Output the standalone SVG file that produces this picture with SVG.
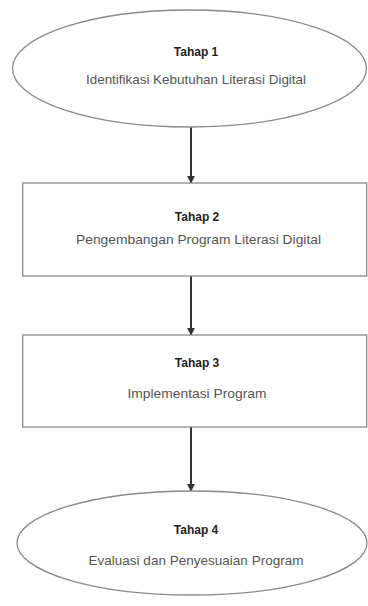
<svg xmlns="http://www.w3.org/2000/svg" width="368" height="606" viewBox="0 0 368 606">
<defs>
<style>
.shape{fill:#ffffff;stroke:#8a8a8a;stroke-width:1.3}
.title{font-family:"Liberation Sans",Arial,sans-serif;font-size:12px;font-weight:bold;fill:#222;text-anchor:middle}
.desc{font-family:"Liberation Sans",Arial,sans-serif;font-size:13px;fill:#555;text-anchor:middle}
.conn{stroke:#333;stroke-width:2;fill:none;marker-end:url(#arr)}
</style>
<marker id="arr" viewBox="0 0 10 10" refX="9" refY="5" markerWidth="4" markerHeight="4" orient="auto" markerUnits="strokeWidth">
<path d="M0,0 L10,5 L0,10 z" fill="#333"/>
</marker>
</defs>
<rect width="368" height="606" fill="#ffffff"/>
<g id="connectors">
<line class="conn" x1="191" y1="127" x2="191" y2="183"/>
<line class="conn" x1="191" y1="276" x2="191" y2="335"/>
<line class="conn" x1="191" y1="427" x2="191" y2="491"/>
</g>
<g id="tahap1">
<ellipse class="shape" cx="189.5" cy="68.5" rx="177" ry="58.5"/>
<text class="title" x="196" y="56">Tahap 1</text>
<text class="desc" x="196" y="84" textLength="220" lengthAdjust="spacingAndGlyphs">Identifikasi Kebutuhan Literasi Digital</text>
</g>
<g id="tahap2">
<rect class="shape" x="22.7" y="183" width="344" height="93"/>
<text class="title" x="197" y="221">Tahap 2</text>
<text class="desc" x="198.5" y="244" textLength="245" lengthAdjust="spacingAndGlyphs">Pengembangan Program Literasi Digital</text>
</g>
<g id="tahap3">
<rect class="shape" x="22.7" y="335" width="344" height="92"/>
<text class="title" x="197" y="367">Tahap 3</text>
<text class="desc" x="197" y="398" textLength="139" lengthAdjust="spacingAndGlyphs">Implementasi Program</text>
</g>
<g id="tahap4">
<ellipse class="shape" cx="192" cy="543" rx="175" ry="52"/>
<text class="title" x="196" y="534">Tahap 4</text>
<text class="desc" x="196" y="565" textLength="215" lengthAdjust="spacingAndGlyphs">Evaluasi dan Penyesuaian Program</text>
</g>
</svg>
